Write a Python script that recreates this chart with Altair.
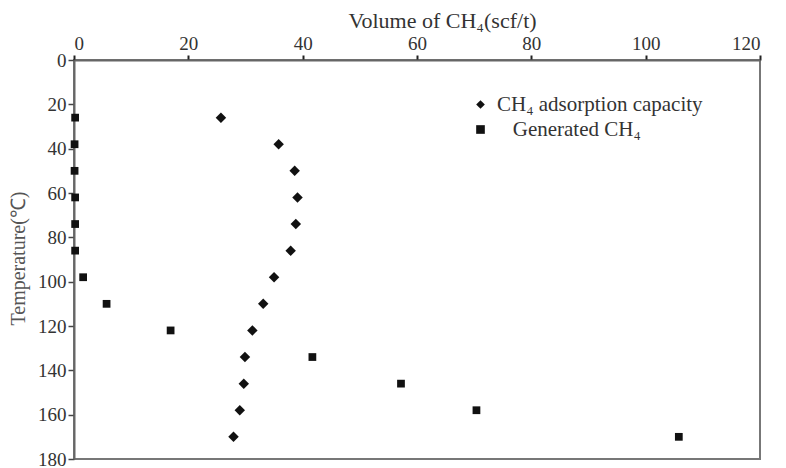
import altair as alt
import pandas as pd

# Temperature steps (°C) and methane volumes (scf/t)
temperature = [26, 38, 50, 62, 74, 86, 98, 110, 122, 134, 146, 158, 170]
adsorption_capacity = [25.7, 35.8, 38.6, 39.1, 38.8, 37.9, 35.0, 33.1, 31.2, 29.9, 29.7, 29.0, 27.9]
generated_ch4 = [0.2, 0.1, 0.1, 0.2, 0.2, 0.2, 1.6, 5.7, 16.9, 41.7, 57.2, 70.4, 105.8]

# The zero-width space keeps the indent of the second legend entry from being trimmed
series_names = ["CH\u2084 adsorption capacity", "\u200b\u00a0\u00a0\u00a0Generated CH\u2084"]
series_shapes = ["diamond", "square"]
series_sizes = [110, 60]

x_ticks = [0, 20, 40, 60, 80, 100, 120]
y_ticks = [0, 20, 40, 60, 80, 100, 120, 140, 160, 180]

rows = []
for name, values in zip(series_names, [adsorption_capacity, generated_ch4]):
    for t, v in zip(temperature, values):
        rows.append({"series": name, "temperature": t, "volume": v})
df = pd.DataFrame(rows)

FONT = "Liberation Serif"

x_enc = alt.X(
    "volume:Q",
    scale=alt.Scale(domain=[0, 120], nice=False, zero=False),
    axis=alt.Axis(
        orient="top",
        values=x_ticks,
        title="Volume of CH\u2084(scf/t)",
        titleFont=FONT,
        titleFontSize=22,
        titleFontWeight="normal",
        titleColor="#333333",
        titleX=368,
        titleY=-40,
        titleBaseline="middle",
        labelFont=FONT,
        labelFontSize=19,
        labelColor="#333333",
        labelPadding=2,
        tickSize=5,
        tickColor="#222222",
        tickWidth=2,
        domainColor="#666666",
        domainWidth=2,
        grid=False,
    ),
)

y_enc = alt.Y(
    "temperature:Q",
    scale=alt.Scale(domain=[0, 180], reverse=True, nice=False, zero=False),
    axis=alt.Axis(
        values=y_ticks,
        title="Temperature(\u2103)",
        titleFont=FONT,
        titleFontSize=20,
        titleFontWeight="normal",
        titleColor="#555555",
        titleAngle=-90,
        titleX=-56,
        titleY=198,
        titleAlign="center",
        titleBaseline="middle",
        labelFont=FONT,
        labelFontSize=19,
        labelColor="#333333",
        labelPadding=2,
        tickSize=6,
        tickColor="#444444",
        tickWidth=1.5,
        domainColor="#666666",
        domainWidth=2,
        grid=False,
    ),
)

shape_enc = alt.Shape(
    "series:N",
    scale=alt.Scale(domain=series_names, range=series_shapes),
    legend=alt.Legend(
        title=None,
        orient="none",
        legendX=396,
        legendY=34,
        labelFont=FONT,
        labelFontSize=21,
        labelColor="#333333",
        labelOffset=6,
        labelLimit=0,
        symbolSize=75,
        symbolFillColor="#111111",
        symbolStrokeColor="#111111",
        symbolStrokeWidth=0,
        rowPadding=3,
        padding=0,
    ),
)

layers = []
for name, size in zip(series_names, series_sizes):
    layers.append(
        alt.Chart(df)
        .transform_filter(alt.datum.series == name)
        .mark_point(filled=True, opacity=1, color="#111111", strokeWidth=0, size=size)
        .encode(x=x_enc, y=y_enc, shape=shape_enc)
    )

chart = alt.layer(*layers).properties(
    width=686,
    height=399,
    autosize=alt.AutoSizeParams(type="none"),
    padding={"left": 74, "top": 60, "right": 26, "bottom": 9},
    background="white",
).configure_view(stroke="#777777", strokeWidth=2)

chart.save("out.html", embed_options={"renderer": "svg", "actions": False})
